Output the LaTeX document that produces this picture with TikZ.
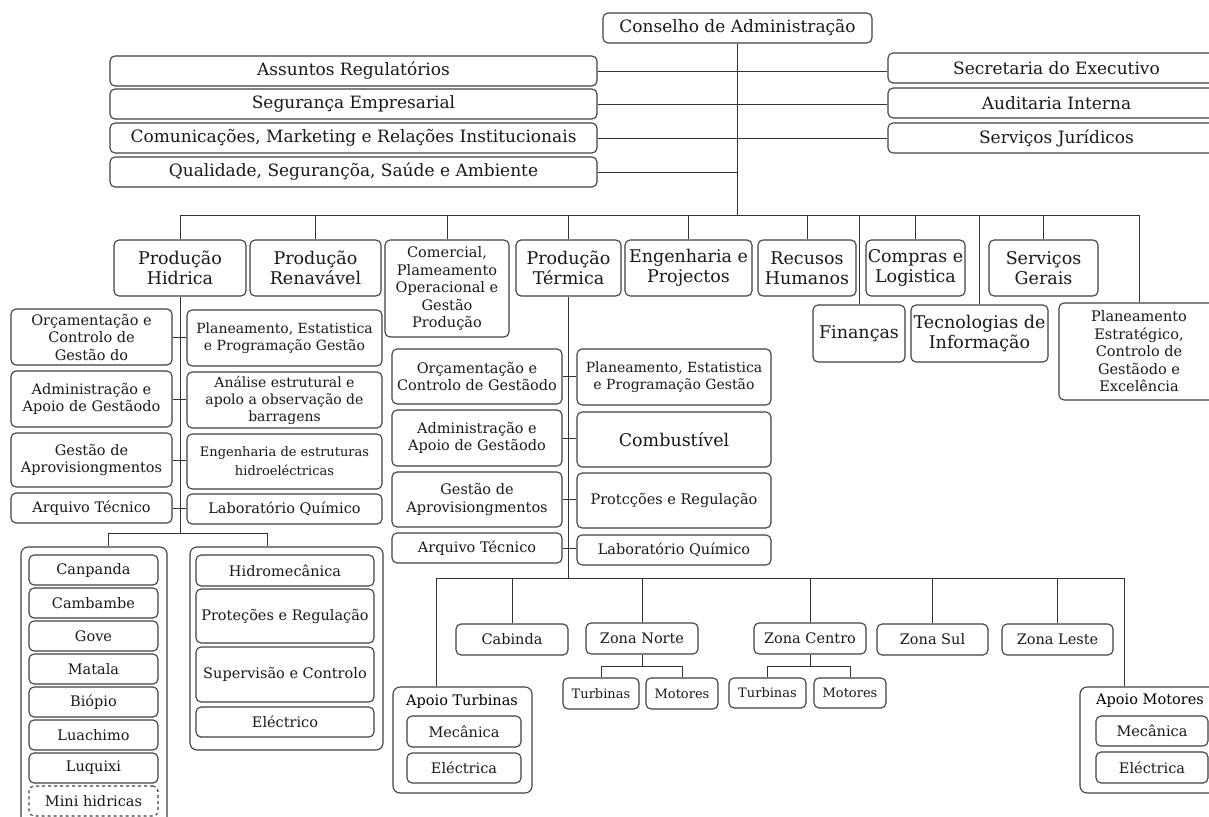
\documentclass[tikz,border=0pt]{standalone}
\usepackage{fontspec}
\setmainfont{DejaVu Serif}
\usetikzlibrary{calc}

\tikzset{
  box/.style={draw=black!75, line width=1.1pt, rounded corners=5pt, inner sep=1pt,
              align=center, text=black!90, fill=white},
  grp/.style={draw=black!75, line width=1.1pt, rounded corners=7pt, fill=white, inner sep=0pt},
  dbox/.style={box, dashed},
  wire/.style={draw=black!80, line width=0.9pt},
  fTop/.style={font=\fontsize{17}{20}\selectfont},
  fHead/.style={font=\fontsize{17.5}{20}\selectfont},
  fSub/.style={font=\fontsize{14.5}{17.5}\selectfont},
  fSubT/.style={font=\fontsize{14}{17}\selectfont},
  fSm/.style={font=\fontsize{13}{16}\selectfont},
}

% \ob[style]{name}{x1}{y1}{x2}{y2}{text}: box given by its corners
\newcommand\ob[7][]{%
  \node[box,#1,minimum width={(#5-#3)*1pt},minimum height={(#6-#4)*1pt}]
    (#2) at ({(#3+#5)/2},{(#4+#6)/2}) {#7};}
% \og{name}{x1}{y1}{x2}{y2}: empty grouping frame
\newcommand\og[5]{%
  \node[grp,minimum width={(#4-#2)*1pt},minimum height={(#5-#3)*1pt}]
    (#1) at ({(#2+#4)/2},{(#3+#5)/2}) {};}

\begin{document}
\begin{tikzpicture}[x=1pt,y=-1pt]
\useasboundingbox (0,0) rectangle (1209,816);
\clip (0,0) rectangle (1209,816);

% ---- board and staff units
\ob[fTop]{cons}{603}{13}{872}{43}{Conselho de Administração}
\ob[fTop]{ar}{110}{56}{597}{86}{Assuntos Regulatórios}
\ob[fTop]{se}{110}{89}{597}{119}{Segurança Empresarial}
\ob[fTop]{cm}{110}{123}{597}{153}{Comunicações, Marketing e Relações Institucionais}
\ob[fTop]{qs}{110}{157}{597}{187}{Qualidade, Segurançõa, Saúde e Ambiente}
\ob[fTop]{sec}{888}{53}{1225}{83}{Secretaria do Executivo}
\ob[fTop]{ai}{888}{88}{1225}{118}{Auditaria Interna}
\ob[fTop]{sj}{888}{123}{1225}{153}{Serviços Jurídicos}

% ---- directorates
\ob[fHead]{hid}{114}{240}{246}{296}{Produção\\Hidrica}
\ob[fHead]{ren}{250}{240}{381}{296}{Produção\\Renavável}
\ob[fSub]{com}{385}{240}{509}{337}{Comercial,\\Plameamento\\Operacional e\\Gestão\\Produção}
\ob[fHead]{ter}{516}{240}{621}{296}{Produção\\Térmica}
\ob[fHead]{eng}{625}{240}{752}{296}{Engenharia e\\Projectos}
\ob[fHead]{rh}{758}{240}{856}{296}{Recusos\\Humanos}
\ob[fHead]{cl}{866}{240}{965}{296}{Compras e\\Logistica}
\ob[fHead]{sg}{989}{240}{1098}{296}{Serviços\\Gerais}
\ob[fHead]{fin}{813}{305}{905}{362}{Finanças}
\ob[fHead]{ti}{911}{305}{1048}{362}{Tecnologias de\\Informação}
\ob[fSub]{pe}{1059}{303}{1219}{400}{Planeamento\\Estratégico,\\Controlo de\\Gestãodo e\\Excelência}

% ---- Produção Hidrica departments
\ob[fSub]{h1}{11}{309}{172}{365}{Orçamentação e\\Controlo de\\Gestão do}
\ob[fSub]{h2}{11}{371}{172}{427}{Administração e\\Apoio de Gestãodo}
\ob[fSub]{h3}{11}{433}{172}{487}{Gestão de\\Aprovisiongmentos}
\ob[fSub]{h4}{11}{493}{172}{523}{Arquivo Técnico}
\ob[fSubT]{h5}{187}{310}{382}{366}{Planeamento, Estatistica\\e Programação Gestão}
\ob[fSubT]{h6}{187}{372}{382}{428}{Análise estrutural e\\apolo a observação de\\barragens}
\ob[font=\fontsize{13}{19}\selectfont]{h7}{187}{434}{382}{489}{Engenharia de estruturas\\hidroeléctricas}
\ob[fSub]{h8}{187}{494}{382}{524}{Laboratório Químico}

% ---- power plants and technical areas (hydro)
\og{gA}{21}{547}{167}{840}
\og{gB}{190}{547}{383}{750}
\ob[fSub]{p1}{29}{555}{158}{585}{Canpanda}
\ob[fSub]{p2}{29}{588}{158}{618}{Cambambe}
\ob[fSub]{p3}{29}{621}{158}{651}{Gove}
\ob[fSub]{p4}{29}{654}{158}{684}{Matala}
\ob[fSub]{p5}{29}{687}{158}{717}{Biópio}
\ob[fSub]{p6}{29}{720}{158}{750}{Luachimo}
\ob[fSub]{p7}{29}{753}{158}{783}{Luquixi}
\ob[fSub,dashed]{p8}{29}{786}{158}{816}{Mini hidricas}
\ob[fSub]{q1}{196}{555}{374}{586}{Hidromecânica}
\ob[fSub]{q2}{196}{589}{374}{643}{Proteções e Regulação}
\ob[fSub]{q3}{196}{647}{374}{702}{Supervisão e Controlo}
\ob[fSub]{q4}{196}{707}{374}{737}{Eléctrico}

% ---- Produção Térmica departments
\ob[fSub]{t1}{392}{349}{562}{404}{Orçamentação e\\Controlo de Gestãodo}
\ob[fSub]{t2}{392}{410}{562}{466}{Administração e\\Apoio de Gestãodo}
\ob[fSub]{t3}{392}{472}{562}{527}{Gestão de\\Aprovisiongmentos}
\ob[fSub]{t4}{392}{533}{562}{563}{Arquivo Técnico}
\ob[fSubT]{u1}{577}{349}{771}{405}{Planeamento, Estatistica\\e Programação Gestão}
\ob[fHead]{u2}{577}{412}{771}{467}{Combustível}
\ob[fSub]{u3}{577}{473}{771}{528}{Protcções e Regulação}
\ob[fSub]{u4}{577}{535}{771}{565}{Laboratório Químico}

% ---- thermal zones
\ob[fSub]{cab}{456}{624}{568}{655}{Cabinda}
\ob[fSub]{zn}{586}{623}{698}{654}{Zona Norte}
\ob[fSub]{zc}{754}{623}{866}{654}{Zona Centro}
\ob[fSub]{zs}{877}{624}{988}{655}{Zona Sul}
\ob[fSub]{zl}{1002}{624}{1113}{655}{Zona Leste}
\ob[fSm]{znT}{563}{678}{639}{709}{Turbinas}
\ob[fSm]{znM}{646}{678}{718}{709}{Motores}
\ob[fSm]{zcT}{729}{678}{806}{708}{Turbinas}
\ob[fSm]{zcM}{814}{678}{886}{708}{Motores}

% ---- support groups
\og{apT}{393}{687}{532}{793}
\node[fSub] (apTt) at (462,701) {Apoio Turbinas};
\ob[fSub]{apT1}{407}{716}{521}{747}{Mecânica}
\ob[fSub]{apT2}{407}{753}{521}{783}{Eléctrica}
\og{apM}{1080}{687}{1230}{793}
\node[fSub] (apMt) at (1150,701) {Apoio Motores};
\ob[fSub]{apM1}{1096}{716}{1208}{746}{Mecânica}
\ob[fSub]{apM2}{1096}{752}{1208}{783}{Eléctrica}

% ---- connectors
\coordinate (busA) at (180,215);
\coordinate (busB) at (1139,215);
\draw[wire] (cons.south) -- (cons.south |- busA);
\draw[wire] (ar.east) -- (ar.east -| sec.west);
\draw[wire] (se.east) -- (se.east -| ai.west);
\draw[wire] (cm.east) -- (cm.east -| sj.west);
\draw[wire] (qs.east) -- (qs.east -| cons.south);
\draw[wire] (busA) -- (busB);
\foreach \n in {hid,ren,com,ter,eng,rh,cl,sg,fin,ti,pe}
  \draw[wire] (\n.north) -- (\n.north |- busA);

% hydro branch
\coordinate (hbA) at (108,533);
\coordinate (hbB) at (267,533);
\draw[wire] (hid.south) -- (hid.south |- hbA);
\draw[wire] (hbA) -- (hbB);
\draw[wire] (hbA) -- (hbA |- gA.north);
\draw[wire] (hbB) -- (hbB |- gB.north);
\draw[wire] (h1.east) -- (h1.east -| h5.west);
\draw[wire] (h2.east) -- (h2.east -| h6.west);
\draw[wire] (h3.east) -- (h3.east -| h7.west);
\draw[wire] (h4.east) -- (h4.east -| h8.west);

% thermal branch
\coordinate (tbA) at (436,578);
\coordinate (tbB) at (1124,578);
\draw[wire] (ter.south) -- (ter.south |- tbA);
\draw[wire] (t1.east) -- (t1.east -| u1.west);
\draw[wire] (t2.east) -- (t2.east -| u2.west);
\draw[wire] (t3.east) -- (t3.east -| u3.west);
\draw[wire] (t4.east) -- (t4.east -| u4.west);
\draw[wire] (tbA) -- (tbB);
\foreach \n in {cab,zn,zc,zs,zl}
  \draw[wire] (\n.north) -- (\n.north |- tbA);
\draw[wire] (tbA) -- (tbA |- apT.north);
\draw[wire] (tbB) -- (tbB |- apM.north);
\coordinate (znj) at ($(zn.south)+(0,12)$);
\coordinate (zcj) at ($(zc.south)+(0,12)$);
\draw[wire] (zn.south) -- (znj);
\draw[wire] (znT.north) |- (znj) -| (znM.north);
\draw[wire] (zc.south) -- (zcj);
\draw[wire] (zcT.north) |- (zcj) -| (zcM.north);
\end{tikzpicture}
\end{document}
